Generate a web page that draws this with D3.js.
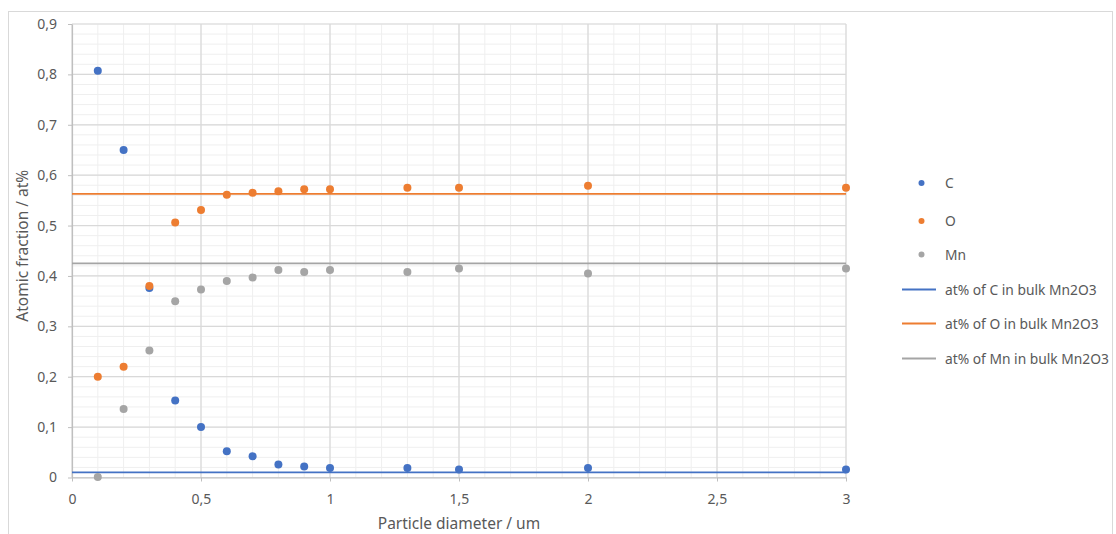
<!DOCTYPE html>
<html>
<head>
<meta charset="utf-8">
<script src="https://cdn.jsdelivr.net/npm/d3@7"></script>
<style>
  html, body { margin: 0; padding: 0; background: #fff; }
  svg { display: block; font-family: "Noto Sans", "Open Sans", sans-serif; }
</style>
</head>
<body>
<svg id="chart" width="1116" height="534"></svg>
<script>
// Particle diameters (um)
const diameters = [0.1, 0.2, 0.3, 0.4, 0.5, 0.6, 0.7, 0.8, 0.9, 1.0, 1.3, 1.5, 2.0, 3.0];
// Measured atomic fractions per element
const carbon    = [0.807, 0.650, 0.376, 0.153, 0.100, 0.052, 0.042, 0.026, 0.022, 0.019, 0.019, 0.016, 0.019, 0.016];
const oxygen    = [0.200, 0.220, 0.380, 0.506, 0.531, 0.561, 0.565, 0.568, 0.572, 0.572, 0.575, 0.575, 0.579, 0.575];
const manganese = [0.001, 0.136, 0.252, 0.350, 0.373, 0.390, 0.397, 0.412, 0.408, 0.412, 0.408, 0.415, 0.405, 0.415];
// Reference levels for bulk Mn2O3
const bulkLevels = [0.010, 0.563, 0.425];

const xTicks = [0, 0.5, 1, 1.5, 2, 2.5, 3];
const yTicks = [0, 0.1, 0.2, 0.3, 0.4, 0.5, 0.6, 0.7, 0.8, 0.9];

const seriesNames = ["C", "O", "Mn"];
const lineNames = ["at% of C in bulk Mn2O3", "at% of O in bulk Mn2O3", "at% of Mn in bulk Mn2O3"];
const colors = ["#4472C4", "#ED7D31", "#A5A5A5"];

const svg = d3.select("#chart");
const margin = { left: 72, top: 24, right: 1116 - 846, bottom: 534 - 477.5 };
const W = 1116, H = 534;

// outer frame
svg.append("rect")
  .attr("x", 8.5).attr("y", 11.5)
  .attr("width", 1104).attr("height", 530)
  .attr("fill", "#fff").attr("stroke", "#d9d9d9").attr("stroke-width", 1);

const x = d3.scaleLinear().domain([0, 3]).range([margin.left, W - margin.right]);
const y = d3.scaleLinear().domain([0, 0.9]).range([H - margin.bottom, margin.top]);

const fmt = d => d3.format("")(d).replace(".", ",");

// minor grid
const g = svg.append("g");
const xMinor = d3.range(0, 30.5, 1).map(d => d / 10);
const yMinor = d3.range(0, 45.5, 1).map(d => d / 50);
g.selectAll("line.xm").data(xMinor).join("line")
  .attr("x1", d => x(d)).attr("x2", d => x(d))
  .attr("y1", y(0)).attr("y2", y(0.9))
  .attr("stroke", "#efefef").attr("stroke-width", 1);
g.selectAll("line.ym").data(yMinor).join("line")
  .attr("x1", x(0)).attr("x2", x(3))
  .attr("y1", d => y(d)).attr("y2", d => y(d))
  .attr("stroke", "#efefef").attr("stroke-width", 1);

// major grid
g.selectAll("line.xM").data(xTicks).join("line")
  .attr("x1", d => x(d)).attr("x2", d => x(d))
  .attr("y1", y(0)).attr("y2", y(0.9))
  .attr("stroke", "#d9d9d9").attr("stroke-width", 1.2);
g.selectAll("line.yM").data(yTicks).join("line")
  .attr("x1", x(0)).attr("x2", x(3))
  .attr("y1", d => y(d)).attr("y2", d => y(d))
  .attr("stroke", "#d9d9d9").attr("stroke-width", 1.2);

// axes
const xAxis = svg.append("g")
  .attr("transform", `translate(0,${y(0)})`)
  .call(d3.axisBottom(x).tickValues(xTicks).tickFormat(fmt).tickSizeInner(4).tickSizeOuter(0).tickPadding(13));
const yAxis = svg.append("g")
  .attr("transform", `translate(${x(0)},0)`)
  .call(d3.axisLeft(y).tickValues(yTicks).tickFormat(fmt).tickSizeInner(4).tickSizeOuter(0).tickPadding(11));
[xAxis, yAxis].forEach(a => {
  a.select(".domain").attr("stroke", "#bfbfbf").attr("stroke-width", 1.2);
  a.selectAll(".tick line").attr("stroke", "#bfbfbf");
  a.selectAll(".tick text").attr("fill", "#595959").style("font-size", "14px")
    .style("font-family", "'Noto Sans', 'Open Sans', sans-serif");
});

// axis titles
svg.append("text")
  .attr("x", (x(0) + x(3)) / 2).attr("y", 528.5)
  .attr("text-anchor", "middle").attr("fill", "#595959").style("font-size", "15.5px")
  .text("Particle diameter / um");
svg.append("text")
  .attr("transform", `translate(28,${(y(0) + y(0.9)) / 2 - 5}) rotate(-90)`)
  .attr("text-anchor", "middle").attr("fill", "#595959").style("font-size", "15.5px")
  .text("Atomic fraction / at%");

// bulk reference lines
svg.selectAll("line.bulk").data(bulkLevels).join("line")
  .attr("x1", x(0)).attr("x2", x(3))
  .attr("y1", d => y(d)).attr("y2", d => y(d))
  .attr("stroke", (d, i) => colors[i]).attr("stroke-width", 1.8);

// scatter points
const series = [carbon, oxygen, manganese];
series.forEach((vals, i) => {
  svg.append("g").selectAll("circle").data(vals).join("circle")
    .attr("cx", (d, j) => x(diameters[j]))
    .attr("cy", d => y(d))
    .attr("r", 4)
    .attr("fill", colors[i]);
});

// legend
const leg = svg.append("g");
const legY = [183, 221, 254.5];
seriesNames.forEach((name, i) => {
  leg.append("circle").attr("cx", 921.5).attr("cy", legY[i]).attr("r", 3).attr("fill", colors[i]);
  leg.append("text").attr("x", 945).attr("y", legY[i] + 5)
    .attr("fill", "#595959").style("font-size", "13.8px").text(name);
});
const lineY = [289.5, 323.5, 358.5];
lineNames.forEach((name, i) => {
  leg.append("line").attr("x1", 902).attr("x2", 936).attr("y1", lineY[i]).attr("y2", lineY[i])
    .attr("stroke", colors[i]).attr("stroke-width", 1.8);
  leg.append("text").attr("x", 945).attr("y", lineY[i] + 5)
    .attr("fill", "#595959").style("font-size", "13.8px").text(name);
});
</script>
</body>
</html>
